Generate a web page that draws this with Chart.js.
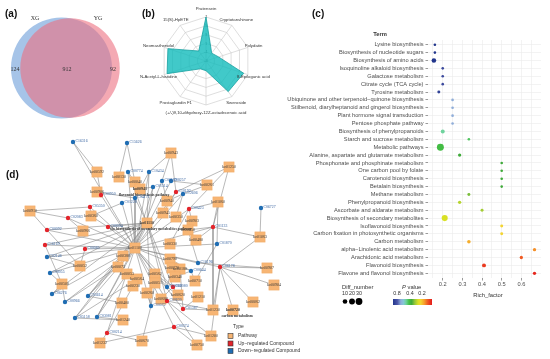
<!DOCTYPE html>
<html><head><meta charset="utf-8">
<script src="https://cdn.jsdelivr.net/npm/chart.js@4.4.1/dist/chart.umd.min.js"></script>
<style>
html,body{margin:0;padding:0;background:#fff;width:550px;height:359px;overflow:hidden;}
body{position:relative;}
canvas{position:absolute;}
.lab{position:absolute;font:bold 10px "Liberation Sans",Arial,sans-serif;color:#111;line-height:10px;}
</style></head><body>
<canvas id="cA" width="145" height="130" style="left:0;top:0"></canvas>
<canvas id="cB" width="140" height="125" style="left:140px;top:0"></canvas>
<canvas id="cD" width="300" height="229" style="left:0;top:130px"></canvas>
<canvas id="cC" width="290" height="359" style="left:260px;top:0"></canvas>
<div class="lab" style="left:5px;top:9px">(a)</div>
<div class="lab" style="left:142px;top:9px">(b)</div>
<div class="lab" style="left:312px;top:9px">(c)</div>
<div class="lab" style="left:6px;top:170px">(d)</div>
<script>
// ---------------- DATA ----------------
// (a) Venn
const vennNames = ['XG', 'YG'];
const vennUnique = [124, 92];
const vennShared = 912;

// (b) Radar
const radarLabels = ['Pratensein', 'Cryptotanshinone', 'Polydatin', '8-Epiloganic acid', 'Sweroside',
  '(+/-)9,10-dihydroxy-12Z-octadecenoic acid', 'Prostaglandin F1', 'N-Acetyl-L-histidine', 'Neomasthenidol', '15(S)-HpETE'];
const radarValues = [7, -0.8, 0, 6.0, 5.6, -0.8, -0.8, 6.3, 6.1, -0.2];
const radarTicks = [-3, -1, 1, 3, 5, 7];

// (c) KEGG enrichment bubble
const terms = ['Lysine biosynthesis', 'Biosynthesis of nucleotide sugars', 'Biosynthesis of amino acids',
  'Isoquinoline alkaloid biosynthesis', 'Galactose metabolism', 'Citrate cycle (TCA cycle)', 'Tyrosine metabolism',
  'Ubiquinone and other terpenoid\u2212quinone biosynthesis', 'Stilbenoid, diarylheptanoid and gingerol biosynthesis',
  'Plant hormone signal transduction', 'Pentose phosphate pathway', 'Biosynthesis of phenylpropanoids',
  'Starch and sucrose metabolism', 'Metabolic pathways', 'Alanine, aspartate and glutamate metabolism',
  'Phosphonate and phosphinate metabolism', 'One carbon pool by folate', 'Carotenoid biosynthesis',
  'Betalain biosynthesis', 'Methane metabolism', 'Phenylpropanoid biosynthesis', 'Ascorbate and aldarate metabolism',
  'Biosynthesis of secondary metabolites', 'Isoflavonoid biosynthesis', 'Carbon fixation in photosynthetic organisms',
  'Carbon metabolism', 'alpha\u2212Linolenic acid metabolism', 'Arachidonic acid metabolism', 'Flavonoid biosynthesis',
  'Flavone and flavonol biosynthesis'];
const richFactor = [0.16, 0.16, 0.155, 0.2, 0.2, 0.2, 0.18, 0.25, 0.25, 0.25, 0.25, 0.2, 0.333, 0.188, 0.286,
  0.5, 0.5, 0.5, 0.5, 0.333, 0.286, 0.4, 0.21, 0.5, 0.5, 0.333, 0.667, 0.6, 0.41, 0.667];
const diffNumber = [1, 1, 10, 1, 1, 1, 2, 1, 1, 1, 1, 6, 1, 32, 3, 1, 1, 1, 1, 2, 3, 2, 22, 2, 2, 4, 3, 3, 6, 3];
const pValue = [0.9, 0.9, 0.9, 0.84, 0.84, 0.84, 0.86, 0.72, 0.72, 0.72, 0.72, 0.6, 0.55, 0.52, 0.47,
  0.47, 0.47, 0.47, 0.47, 0.42, 0.36, 0.38, 0.32, 0.26, 0.26, 0.2, 0.16, 0.1, 0.05, 0.02];
const xTickValues = [0.15, 0.2, 0.25, 0.3, 0.35, 0.4, 0.45, 0.5, 0.55, 0.6, 0.65];
const sizeLegend = [10, 20, 30];
const pLegend = ['0.8', '0.4', '0.2'];

// (d) Network
const pathIds = ['ko00943','ko01250','ko00592','ko00130','ko00040','ko00941','ko00261','ko00906','ko01060','ko00940',
  'ko00910','ko00360','ko00945','ko00350','ko00903','ko01110','ko00966','ko00250','ko00480','ko01063',
  'ko00330','ko01100','ko00380','ko00790','ko00052','ko00073','ko00270','ko00180','ko00907','ko00053',
  'ko00562','ko00340','ko00564','ko00710','ko00500','ko00051','ko00230','ko00904','ko00260','ko00620',
  'ko01210','ko00680','ko00400','ko00062','ko01230','ko00720','ko01240','ko01200','ko01232','ko00670','ko00750'];
const pathX = [171,229,97,119,135,140,207,97,218,167,30,91,163,176,192,147,83,188,196,260,170,135,123,170,80,118,172,180,267,127,
  155,175,137,195,62,155,133,274,147,178,198,161,122,253,213,233,123,211,100,142,197];
const pathY = [23,37,42,47,52,59,55,62,72,71,81,86,83,87,91,93,101,100,110,107,114,118,126,129,136,137,138,139,138,144,
  144,147,149,151,154,153,156,155,163,165,167,169,173,172,180,180,190,206,213,211,215];
const pathNotes = {'ko00941': 'flavonoid biosynthesis pathway', 'ko01110': 'the biosynthesis of secondary metabolites pathway', 'ko00720': 'carbon metabolism'};
const compIds = ['C16316','C15626','C00774','C10434','C00509','C08257','C01514','C04171','C01228','C12606',
  'C06727','C01870','C02146','C00055','C06276','C00966','C05614','C05158','C03081','C16196',
  'C00644','C00072','C00062','C10192','C00950','C05350','C00423','C02083','C00094','C00092',
  'C16169','C00085','C01133','C06178','C00080','C00630','C01387','C00374','C00214'];
const compX = [73,127,128,149,162,171,153,135,122,183,261,217,47,50,52,65,88,75,97,198,191,151,167,
  176,101,90,189,68,108,47,45,85,213,220,173,167,183,174,107];
const compY = [12,13,42,42,51,51,57,68,73,64,78,114,127,143,164,172,166,188,187,133,141,176,157,
  62,65,77,79,88,97,100,115,119,97,137,157,171,179,197,203];
const compReg = ['down','down','down','down','down','down','down','down','down','down','down','down','down','down','down','down',
  'down','down','down','down','down','down','down','up','up','up','up','up','up','up','up','up','up','up','up','up','up','up','up'];
const compLinks = [[2,21],[3,4],[4,21,15],[0,5,21,15],[0,9,21],[6,21],[5,21,15],[7,21,15],[11,21],[6,9,13,21],
  [19],[8,21,33],[21,24,15],[21,34,15],[34,21,15],[21,34,25],[21,42,22,15],[46,21,32,15],[46,21,29,15],[21,28,17],
  [21,33,23,31],[21,49,35,38,15],[21,39,26,15],[0,1,12,21],[2,7,21],[10,11,21],[1,8,14,20,21],[10,16,21],[11,21,15],
  [10,21,24,15],[21,34,15],[21,24],[1,8,17,18,19,21,44],[19,28,37,43,44,45,47,21],[21,39,41,30,15],[21,44,47,50,15],
  [44,27,40,21],[47,50,48,21],[48,49,36,21]];
const typeLegend = ['Pathway', 'Up\u2212regulated Compound', 'Down\u2212regulated Compound'];

// ---------------- HELPERS ----------------
Chart.defaults.animation = false;
Chart.defaults.events = [];
Chart.defaults.plugins.legend.display = false;
Chart.defaults.plugins.tooltip.enabled = false;
Chart.defaults.font.family = '"Liberation Sans", Arial, sans-serif';
const SANS = '"Liberation Sans", Arial, sans-serif';
const SERIF = '"Liberation Serif", "Times New Roman", serif';
const ctxOf = id => document.getElementById(id).getContext('2d');

// ---------------- (a) VENN ----------------
const vennTotals = [vennUnique[0] + vennShared, vennUnique[1] + vennShared];
const VENN_K = 1.57, VENN_CX = [61.5, 70], VENN_CY = 68;
new Chart(ctxOf('cA'), {
  type: 'bubble',
  data: { datasets: [
    { data: [{ x: VENN_CX[0], y: VENN_CY, r: VENN_K * Math.sqrt(vennTotals[0]) }], backgroundColor: '#a6c4e8', borderWidth: 0, order: 2, clip: false },
    { data: [{ x: VENN_CX[1], y: VENN_CY, r: VENN_K * Math.sqrt(vennTotals[1]) }], backgroundColor: 'rgba(236,112,128,0.6)', borderWidth: 0, order: 1, clip: false }
  ]},
  options: {
    responsive: false, layout: { padding: 0, autoPadding: false },
    scales: { x: { display: false, min: 0, max: 145 }, y: { display: false, min: 0, max: 130, reverse: true } }
  },
  plugins: [{
    id: 'vennText',
    afterDatasetsDraw(chart) {
      const c = chart.ctx, xs = chart.scales.x, ys = chart.scales.y;
      c.save(); c.fillStyle = '#333'; c.font = '6px ' + SERIF; c.textAlign = 'center'; c.textBaseline = 'middle';
      c.fillText(vennNames[0], xs.getPixelForValue(35), ys.getPixelForValue(18));
      c.fillText(vennNames[1], xs.getPixelForValue(98), ys.getPixelForValue(18));
      c.fillText(String(vennUnique[0]), xs.getPixelForValue(15), ys.getPixelForValue(69));
      c.fillText(String(vennShared), xs.getPixelForValue(67), ys.getPixelForValue(69));
      c.fillText(String(vennUnique[1]), xs.getPixelForValue(113), ys.getPixelForValue(69));
      c.restore();
    }
  }]
});

// ---------------- (b) RADAR ----------------
new Chart(ctxOf('cB'), {
  type: 'radar',
  data: { labels: radarLabels, datasets: [{
    data: radarValues, backgroundColor: 'rgba(18,188,188,0.8)', borderColor: '#16a0a0', borderWidth: 0.8, pointRadius: 0
  }]},
  options: {
    responsive: false,
    layout: { padding: { left: 20, right: 28, top: 14, bottom: 17 }, autoPadding: false },
    scales: { r: {
      min: radarTicks[0], max: radarTicks[radarTicks.length - 1],
      afterBuildTicks: s => { s.ticks = radarTicks.map(v => ({ value: v })); },
      ticks: { font: { size: 4 }, color: '#666', backdropColor: 'transparent', backdropPadding: 0, showLabelBackdrop: false },
      grid: { color: '#c8c8c8', lineWidth: 0.6 },
      angleLines: { color: '#c8c8c8', lineWidth: 0.6 },
      pointLabels: { display: false }
    }}
  },
  plugins: [{
    id: 'radarLabels',
    afterDraw(chart) {
      const s = chart.scales.r, c = chart.ctx;
      c.save(); c.fillStyle = '#333'; c.font = '4.3px ' + SANS; c.textAlign = 'center'; c.textBaseline = 'middle';
      radarLabels.forEach((lab, i) => {
        const ang = i * 2 * Math.PI / radarLabels.length;
        const p = s.getPointPosition(i, s.drawingArea + 5 + 3 * Math.abs(Math.cos(ang)));
        c.fillText(lab, p.x, p.y);
      });
      c.restore();
    }
  }]
});

// ---------------- (c) BUBBLE ----------------
const P_STOPS = [[0, '#e31a1c'], [0.1, '#f05a22'], [0.18, '#f6a02a'], [0.26, '#f3d432'], [0.32, '#d9e124'],
  [0.4, '#92c63a'], [0.47, '#3faa3a'], [0.53, '#44c046'], [0.6, '#6fd39e'], [0.66, '#86c5d8'],
  [0.72, '#8fadd9'], [0.8, '#4b56a8'], [0.9, '#22368c']];
function hexToRgb(h) { return [parseInt(h.slice(1, 3), 16), parseInt(h.slice(3, 5), 16), parseInt(h.slice(5, 7), 16)]; }
function pColor(p) {
  for (let i = 0; i < P_STOPS.length - 1; i++) {
    const [p0, c0] = P_STOPS[i], [p1, c1] = P_STOPS[i + 1];
    if (p <= p1 || i === P_STOPS.length - 2) {
      const t = Math.max(0, Math.min(1, (p - p0) / (p1 - p0)));
      const a = hexToRgb(c0), b = hexToRgb(c1);
      return `rgb(${a.map((v, k) => Math.round(v + (b[k] - v) * t)).join(',')})`;
    }
  }
}
const sizeR = n => 0.83 + 0.47 * Math.sqrt(n);
const OX = 260; // canvas C page offset
new Chart(ctxOf('cC'), {
  type: 'bubble',
  data: { datasets: [{
    data: terms.map((t, i) => ({ x: richFactor[i], y: i + 1, r: sizeR(diffNumber[i]) })),
    backgroundColor: pValue.map(pColor), borderWidth: 0, clip: false
  }]},
  options: {
    responsive: false,
    layout: { padding: { left: 0, top: 40, right: 9, bottom: 0 }, autoPadding: false },
    scales: {
      x: {
        type: 'linear', min: 0.125, max: 0.70,
        afterBuildTicks: s => { s.ticks = xTickValues.map(v => ({ value: v })); },
        afterFit: s => { s.height = 81; },
        border: { display: false },
        grid: { color: '#ebebeb', lineWidth: 0.6, tickLength: 2.5, tickWidth: 0.6,
          tickColor: ctx => (Math.round(ctx.tick.value * 100) % 10 === 0) ? '#555' : 'rgba(0,0,0,0)' },
        ticks: { autoSkip: false, maxRotation: 0, padding: 1, color: '#4d4d4d', font: { size: 5.7 },
          callback: v => (Math.round(v * 100) % 10 === 0) ? (Math.round(v * 10) / 10).toFixed(1) : '' }
      },
      y: {
        type: 'linear', reverse: true, min: 0.4, max: terms.length + 0.6,
        afterBuildTicks: s => { s.ticks = terms.map((t, i) => ({ value: i + 1 })); },
        afterFit: s => { s.width = 168; },
        border: { display: false },
        grid: { color: '#ebebeb', lineWidth: 0.6, tickLength: 2.5, tickWidth: 0.6, tickColor: '#555' },
        ticks: { autoSkip: false, padding: 2, color: '#4d4d4d', font: { size: 5.7 },
          callback: v => terms[Math.round(v) - 1] || '' }
      }
    }
  },
  plugins: [{
    id: 'cLegend',
    afterDraw(chart) {
      const c = chart.ctx;
      c.save(); c.fillStyle = '#333'; c.textBaseline = 'middle';
      c.font = 'bold 5.8px ' + SANS; c.textAlign = 'center';
      c.fillText('Term', 380 - OX, 34);
      c.font = '5.8px ' + SANS;
      c.fillText('Rich_factor', 488 - OX, 295.5);
      c.textAlign = 'left';
      c.fillText('Diff_number', 342 - OX, 287);
      const sx = [345, 352, 359];
      c.textAlign = 'center'; c.font = '5.4px ' + SANS;
      sizeLegend.forEach((n, i) => {
        c.fillStyle = '#333'; c.fillText(String(n), sx[i] - OX, 294);
        c.fillStyle = '#000'; c.beginPath(); c.arc(sx[i] - OX, 301.5, sizeR(n), 0, Math.PI * 2); c.fill();
      });
      c.fillStyle = '#333'; c.textAlign = 'left';
      c.font = 'italic 5.8px ' + SANS; c.fillText('P', 402 - OX, 287);
      const pw = c.measureText('P ').width;
      c.font = '5.8px ' + SANS; c.fillText('value', 402 - OX + pw, 287);
      const px = [397, 410, 422];
      c.textAlign = 'center'; c.font = '5.4px ' + SANS;
      pLegend.forEach((t, i) => c.fillText(t, px[i] - OX, 294));
      const g = c.createLinearGradient(393 - OX, 0, 432 - OX, 0);
      P_STOPS.forEach(([p, col]) => g.addColorStop(1 - p / 0.9, col));
      c.fillStyle = g; c.fillRect(393 - OX, 299, 39, 6);
      c.restore();
    }
  }]
});

// ---------------- (d) NETWORK ----------------
const edgePts = [];
compLinks.forEach((links, ci) => {
  links.forEach(pi => {
    edgePts.push({ x: compX[ci], y: compY[ci] }, { x: pathX[pi], y: pathY[pi] }, { x: NaN, y: NaN });
  });
});
const REG_COL = { up: '#e3242b', down: '#1f6db3' };
new Chart(ctxOf('cD'), {
  type: 'scatter',
  data: { datasets: [
    { type: 'line', data: edgePts, borderColor: '#8a8a8a', borderWidth: 0.6, pointRadius: 0, spanGaps: false, order: 10, clip: false },
    { data: pathIds.map((id, i) => ({ x: pathX[i], y: pathY[i] })), pointStyle: 'rect', pointRadius: 7.4,
      backgroundColor: '#f7b574', borderColor: '#f2a75e', borderWidth: 0.3, order: 2, clip: false },
    { data: compIds.map((id, i) => ({ x: compX[i], y: compY[i] })), pointStyle: 'circle', pointRadius: 2.2,
      backgroundColor: compReg.map(r => REG_COL[r]), borderWidth: 0, order: 1, clip: false }
  ]},
  options: {
    responsive: false, layout: { padding: 0, autoPadding: false },
    scales: { x: { display: false, min: 0, max: 300 }, y: { display: false, min: 0, max: 229, reverse: true } }
  },
  plugins: [{
    id: 'netLabels',
    afterDraw(chart) {
      const c = chart.ctx;
      c.save(); c.textBaseline = 'middle';
      const pm = chart.getDatasetMeta(1).data;
      pm.forEach((el, i) => {
        const id = pathIds[i], note = pathNotes[id];
        c.textAlign = 'center'; c.fillStyle = '#3a3a3a';
        c.font = (note ? 'bold ' : '') + '4px ' + SERIF;
        c.fillText(id, el.x, el.y);
        if (note) { c.font = 'bold 3.8px ' + SERIF; c.fillStyle = '#333'; c.fillText(note, el.x + 4, el.y + 6); }
      });
      const cm = chart.getDatasetMeta(2).data;
      c.font = '3.8px ' + SERIF; c.textAlign = 'left'; c.fillStyle = '#2f5d9c';
      cm.forEach((el, i) => c.fillText(compIds[i], el.x + 2.5, el.y - 1));
      c.fillStyle = '#333'; c.font = '5px ' + SANS; c.textAlign = 'left';
      c.fillText('Type', 233, 197);
      const cols = ['#f7b574', REG_COL.up, REG_COL.down];
      typeLegend.forEach((t, i) => {
        const y = 206 + i * 7.5;
        c.fillStyle = cols[i]; c.fillRect(228, y - 2.5, 5, 5);
        c.strokeStyle = '#333'; c.lineWidth = 0.6; c.strokeRect(228, y - 2.5, 5, 5);
        c.fillStyle = '#333'; c.fillText(t, 238, y);
      });
      c.restore();
    }
  }]
});
</script>
</body></html>
